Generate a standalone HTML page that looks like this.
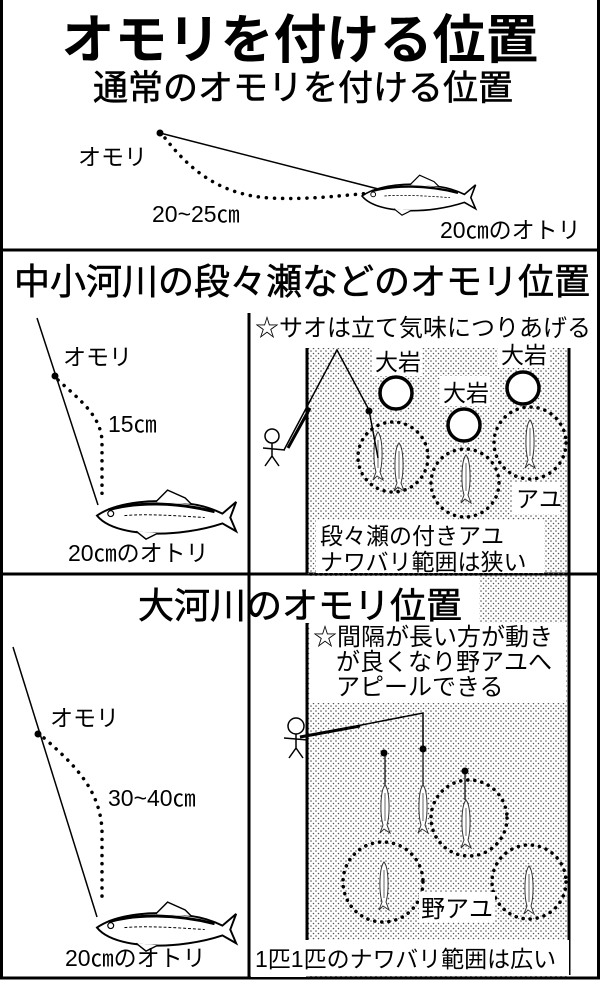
<!DOCTYPE html>
<html><head><meta charset="utf-8"><style>
html,body{margin:0;padding:0;background:#fff}
svg{display:block}
text{font-family:"Liberation Sans","Noto Sans CJK JP",sans-serif;fill:#000}
</style></head><body>
<svg width="600" height="981" viewBox="0 0 600 981" xmlns="http://www.w3.org/2000/svg">
<defs>
<pattern id="dots" width="5" height="5" patternUnits="userSpaceOnUse">
<circle cx="1" cy="1" r="0.8" fill="#555"/><circle cx="3.5" cy="3.5" r="0.8" fill="#555"/>
</pattern>
<g id="fish">
<path d="M0,20 C20,6 60,2 95,8 C110,10 120,14 128,18 L142,6 L136,22 L142,36 L128,28 C110,34 80,40 50,38 C25,36 8,30 0,20 Z" fill="#fff" stroke="#000" stroke-width="2"/>
<path d="M60,6 L72,-6 L90,2 L96,8" fill="#fff" stroke="#000" stroke-width="1.5"/>
<path d="M40,36 L50,44 L62,38" fill="#fff" stroke="#000" stroke-width="1.5"/>
<path d="M12,14 C40,6 80,6 120,16" fill="none" stroke="#000" stroke-width="3"/>
<circle cx="14" cy="18" r="3" fill="none" stroke="#000" stroke-width="1.2"/>
<path d="M28,20 C50,18 80,20 110,22" fill="none" stroke="#000" stroke-width="1" stroke-dasharray="3 2"/>
</g>
<g id="sf">
<path d="M0,0 C5,6 5,30 2,40 L5,48 L-1,44 L-5,48 L-2,40 C-5,30 -5,6 0,0 Z" fill="#fff" stroke="#333" stroke-width="1"/>
<line x1="0" y1="8" x2="0" y2="36" stroke="#666" stroke-width="1"/>
</g>
</defs>

<!-- frame -->
<line x1="1.5" y1="0" x2="1.5" y2="979" stroke="#000" stroke-width="3"/>
<line x1="598.5" y1="0" x2="598.5" y2="979" stroke="#000" stroke-width="3"/>
<line x1="0" y1="978" x2="600" y2="978" stroke="#000" stroke-width="3"/>
<line x1="0" y1="250" x2="600" y2="250" stroke="#000" stroke-width="3"/>
<line x1="0" y1="574" x2="600" y2="574" stroke="#000" stroke-width="3"/>

<!-- Section 1 -->
<text x="300" y="58" font-size="53" font-weight="bold" text-anchor="middle">オモリを付ける位置</text>
<text x="303" y="100" font-size="35" text-anchor="middle" stroke="#000" stroke-width="0.6">通常のオモリを付ける位置</text>
<line x1="160" y1="133" x2="390" y2="192" stroke="#000" stroke-width="1.5"/>
<circle cx="160" cy="133" r="3.5"/>
<path d="M165,138 C190,170 220,195 270,198 C310,200 345,195 372,193" fill="none" stroke="#000" stroke-width="3.5" stroke-dasharray="0.1 8" stroke-linecap="round"/>
<use href="#fish" transform="translate(362,180) scale(0.8)"/>
<text x="78" y="165" font-size="23">オモリ</text>
<text x="152" y="222" font-size="23">20~25㎝</text>
<text x="440" y="238" font-size="23">20㎝のオトリ</text>

<!-- Section 2 -->
<text x="302" y="294" font-size="36" text-anchor="middle" stroke="#000" stroke-width="0.6">中小河川の段々瀬などのオモリ位置</text>
<line x1="37" y1="318" x2="98" y2="505" stroke="#000" stroke-width="1.5"/>
<circle cx="55" cy="376" r="3.5"/>
<path d="M58,380 C80,400 100,415 102,440 L102,500" fill="none" stroke="#000" stroke-width="3.5" stroke-dasharray="0.1 8" stroke-linecap="round"/>
<use href="#fish" transform="translate(97,496) scale(0.98)"/>
<text x="63" y="365" font-size="23">オモリ</text>
<text x="108" y="432" font-size="23">15㎝</text>
<text x="68" y="561" font-size="23">20㎝のオトリ</text>

<line x1="249" y1="313" x2="249" y2="978" stroke="#000" stroke-width="3"/>
<!-- river -->
<rect x="307" y="348" width="262" height="630" fill="url(#dots)"/>
<line x1="307" y1="348" x2="307" y2="573" stroke="#000" stroke-width="3"/>
<line x1="569" y1="348" x2="569" y2="975" stroke="#000" stroke-width="3"/>

<text x="255" y="336" font-size="24">☆サオは立て気味につりあげる</text>
<!-- labels bg -->
<rect x="372" y="346" width="50" height="30" fill="#fff"/>
<rect x="440" y="376" width="50" height="30" fill="#fff"/>
<rect x="498" y="340" width="52" height="28" fill="#fff"/>
<rect x="512" y="482" width="48" height="32" fill="#fff"/>
<rect x="316" y="520" width="228" height="53" fill="#fff"/>
<text x="375" y="370" font-size="23">大岩</text>
<text x="443" y="401" font-size="23">大岩</text>
<text x="501" y="363" font-size="23">大岩</text>
<circle cx="396" cy="393" r="16" fill="#fff" stroke="#000" stroke-width="3.5"/>
<circle cx="464" cy="425" r="16" fill="#fff" stroke="#000" stroke-width="3.5"/>
<circle cx="523" cy="388" r="16" fill="#fff" stroke="#000" stroke-width="3.5"/>
<g fill="none" stroke="#000" stroke-width="3.5" stroke-dasharray="0.1 7" stroke-linecap="round">
<circle cx="393" cy="457" r="35"/><circle cx="465" cy="483" r="34"/><circle cx="530" cy="443" r="36"/>
</g>
<use href="#sf" transform="translate(378,432)"/>
<use href="#sf" transform="translate(399,443)"/>
<use href="#sf" transform="translate(466,455)"/>
<use href="#sf" transform="translate(530,420)"/>
<text x="516" y="507" font-size="23">アユ</text>
<text x="320" y="544" font-size="23">段々瀬の付きアユ</text>
<text x="320" y="570" font-size="23">ナワバリ範囲は狭い</text>
<!-- person & rod -->
<circle cx="272" cy="436" r="7" fill="#fff" stroke="#000" stroke-width="1.5"/>
<path d="M272,443 L272,456 L265,466 M272,456 L279,466 M263,448 L285,450" fill="none" stroke="#000" stroke-width="1.5"/>
<path d="M284,450 L337,350 L369,410 L378,458" fill="none" stroke="#000" stroke-width="1.5"/>
<line x1="288" y1="448" x2="310" y2="408" stroke="#000" stroke-width="3"/>
<circle cx="369" cy="411" r="3.5"/>

<!-- Section 3 -->
<rect x="251" y="576" width="228" height="47" fill="#fff"/>
<rect x="251" y="576" width="55" height="401" fill="#fff"/>
<line x1="249" y1="620" x2="249" y2="978" stroke="#000" stroke-width="3"/>
<line x1="307" y1="623" x2="307" y2="975" stroke="#000" stroke-width="3"/>
<text x="300" y="618" font-size="36" text-anchor="middle" stroke="#000" stroke-width="0.6">大河川のオモリ位置</text>
<line x1="13" y1="647" x2="97" y2="917" stroke="#000" stroke-width="1.5"/>
<circle cx="38" cy="734" r="3.5"/>
<path d="M44,738 C75,765 100,790 102,830 L102,900" fill="none" stroke="#000" stroke-width="3.5" stroke-dasharray="0.1 8" stroke-linecap="round"/>
<use href="#fish" transform="translate(97,908) scale(0.98)"/>
<text x="50" y="726" font-size="23">オモリ</text>
<text x="108" y="806" font-size="23">30~40㎝</text>
<text x="65" y="966" font-size="23">20㎝のオトリ</text>

<rect x="310" y="623" width="256" height="80" fill="#fff"/>
<text x="313" y="645" font-size="24">☆間隔が長い方が動き</text>
<text x="336" y="670" font-size="24">が良くなり野アユへ</text>
<text x="336" y="695" font-size="24">アピールできる</text>
<!-- person & rod -->
<circle cx="296" cy="726" r="8" fill="#fff" stroke="#000" stroke-width="1.5"/>
<path d="M296,734 L296,748 L289,758 M296,748 L303,758 M284,738 L308,740" fill="none" stroke="#000" stroke-width="1.5"/>
<path d="M300,737 L423,713 L423,749" fill="none" stroke="#000" stroke-width="1.5"/>
<line x1="300" y1="737" x2="360" y2="726" stroke="#000" stroke-width="3"/>
<g fill="none" stroke="#000" stroke-width="3.5" stroke-dasharray="0.1 7" stroke-linecap="round">
<circle cx="469" cy="818" r="38"/><circle cx="383" cy="882" r="40"/><circle cx="529" cy="882" r="37"/>
</g>
<line x1="385" y1="753" x2="385" y2="785" stroke="#000" stroke-width="1.2"/>
<line x1="423" y1="749" x2="423" y2="785" stroke="#000" stroke-width="1.2"/>
<line x1="465" y1="771" x2="465" y2="800" stroke="#000" stroke-width="1.2"/>
<circle cx="384" cy="753" r="3.5"/><circle cx="423" cy="749" r="3.5"/><circle cx="465" cy="771" r="3.5"/>
<use href="#sf" transform="translate(385,785)"/>
<use href="#sf" transform="translate(423,785)"/>
<use href="#sf" transform="translate(466,800)"/>
<use href="#sf" transform="translate(384,862)"/>
<use href="#sf" transform="translate(529,866)"/>
<rect x="419" y="892" width="76" height="30" fill="#fff"/>
<text x="421" y="917" font-size="24">野アユ</text>
<rect x="251" y="940" width="318" height="36" fill="#fff"/>
<line x1="249" y1="940" x2="249" y2="978" stroke="#000" stroke-width="3"/>
<text x="255" y="967" font-size="23">1匹1匹のナワバリ範囲は広い</text>
</svg>
</body></html>
